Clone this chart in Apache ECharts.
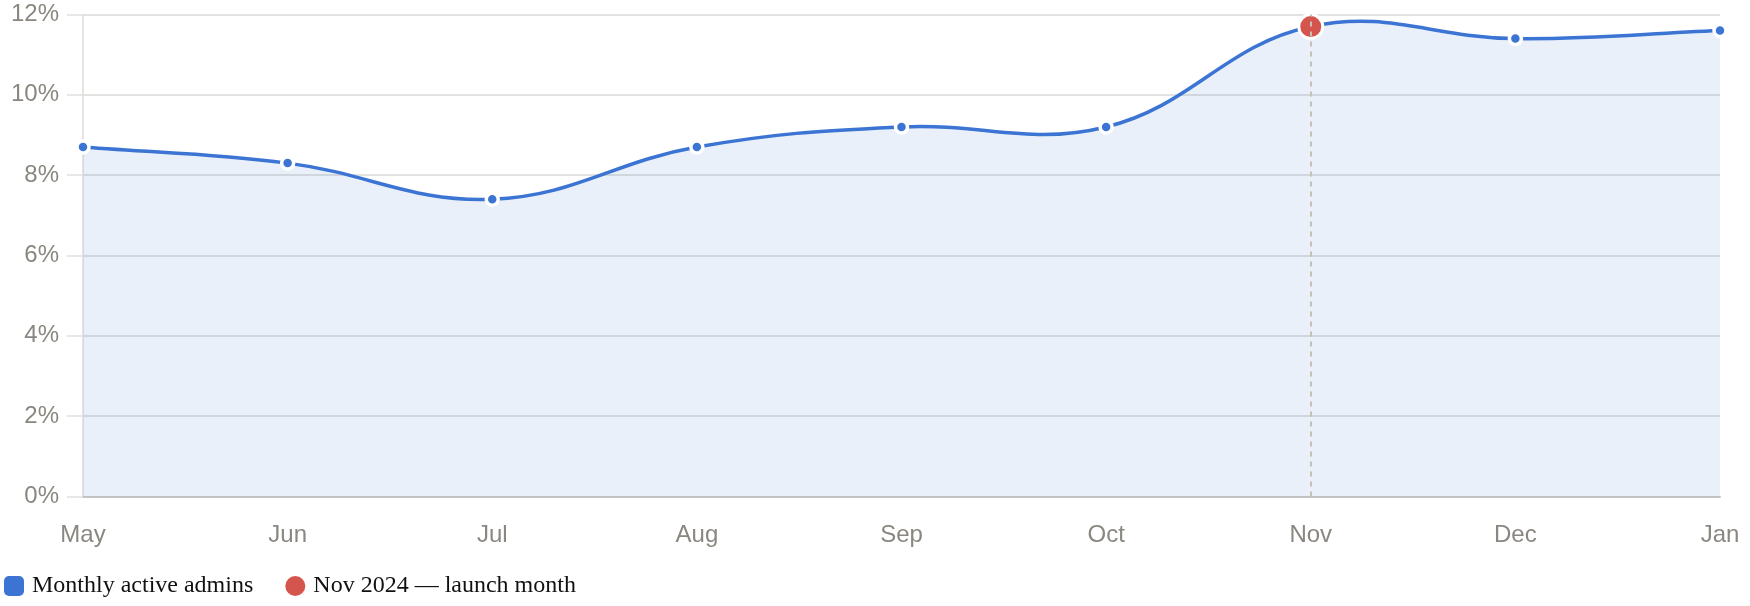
<!DOCTYPE html>
<html><head><meta charset="utf-8">
<script src="https://cdn.jsdelivr.net/npm/echarts@6/dist/echarts.min.js"></script>
<style>html,body{margin:0;padding:0;background:#fff}#c{width:1750px;height:606px}</style>
</head><body><div id="c"></div>
<script>
const categories = ['May','Jun','Jul','Aug','Sep','Oct','Nov','Dec','Jan'];
const adminValues = [8.7, 8.3, 7.4, 8.7, 9.2, 9.2, 11.7, 11.4, 11.6];
const launchCategory = 'Nov';
const launchValue = 11.7;
const seriesNames = ['Monthly active admins', 'Nov 2024 — launch month'];

const BLUE = '#3b74d3';
const RED = '#d4554d';
const TENSION = 0.4;

function splinePaths(pts, base) {
  const n = pts.length;
  const cps = pts.map((cur, i) => {
    const prev = pts[Math.max(i - 1, 0)];
    const next = pts[Math.min(i + 1, n - 1)];
    const d01 = Math.hypot(cur[0] - prev[0], cur[1] - prev[1]);
    const d12 = Math.hypot(next[0] - cur[0], next[1] - cur[1]);
    let s01 = d01 / (d01 + d12), s12 = d12 / (d01 + d12);
    if (!isFinite(s01)) s01 = 0;
    if (!isFinite(s12)) s12 = 0;
    const fa = TENSION * s01, fb = TENSION * s12;
    return {
      p: [cur[0] - fa * (next[0] - prev[0]), cur[1] - fa * (next[1] - prev[1])],
      n: [cur[0] + fb * (next[0] - prev[0]), cur[1] + fb * (next[1] - prev[1])]
    };
  });
  let d = 'M' + pts[0][0] + ' ' + pts[0][1];
  for (let i = 0; i < n - 1; i++) {
    const c1 = cps[i].n, c2 = cps[i + 1].p, e = pts[i + 1];
    d += ' C' + c1[0] + ' ' + c1[1] + ' ' + c2[0] + ' ' + c2[1] + ' ' + e[0] + ' ' + e[1];
  }
  const area = d + ' L' + pts[n - 1][0] + ' ' + base + ' L' + pts[0][0] + ' ' + base + ' Z';
  return {line: d, area: area};
}

const chart = echarts.init(document.getElementById('c'));
chart.setOption({
  animation: false,
  grid: {left: 83, right: 30, top: 14.5, bottom: 109.5},
  legend: {
    left: 4, top: 574, padding: 0, itemWidth: 20, itemHeight: 20, itemGap: 32,
    textStyle: {fontFamily: 'Liberation Serif', fontSize: 24, color: '#111', padding: [0, 0, 0, 3]},
    data: [
      {name: seriesNames[0], icon: 'roundRect', itemStyle: {color: BLUE, borderWidth: 0}},
      {name: seriesNames[1], icon: 'circle', itemStyle: {color: RED, borderWidth: 0}}
    ]
  },
  xAxis: {
    type: 'category', data: categories, boundaryGap: false,
    axisLine: {lineStyle: {color: '#c6c6c6', width: 2}},
    axisTick: {show: false},
    axisLabel: {color: '#8a8780', fontFamily: 'Liberation Sans', fontSize: 24, margin: 27}
  },
  yAxis: {
    type: 'value', min: 0, max: 12, interval: 2,
    axisLine: {show: true, lineStyle: {color: '#dedcd8', width: 1.5}},
    axisTick: {show: true, length: 16, lineStyle: {color: '#e2e0dc', width: 1.5}},
    splitLine: {lineStyle: {color: '#d8d8d6', width: 1.5}},
    axisLabel: {color: '#8a8780', fontFamily: 'Liberation Sans', fontSize: 24, margin: 24, formatter: '{value}%'}
  },
  series: [
    {
      name: 'curve', type: 'custom', silent: true, z: 1,
      data: [[0, 0]],
      renderItem: function (params, api) {
        const pts = adminValues.map((v, i) => api.coord([i, v]));
        const base = api.coord([0, 0])[1];
        const paths = splinePaths(pts, base);
        return {
          type: 'group',
          children: [
            {type: 'path', shape: {pathData: paths.area}, style: {fill: 'rgba(59,116,211,0.11)', stroke: null}},
            {type: 'path', shape: {pathData: paths.line}, style: {fill: null, stroke: BLUE, lineWidth: 3.5}}
          ]
        };
      }
    },
    {
      name: seriesNames[0], type: 'line', data: adminValues,
      symbol: 'circle', symbolSize: 12,
      itemStyle: {color: BLUE, borderColor: '#fff', borderWidth: 3.5},
      lineStyle: {width: 0, opacity: 0},
      z: 3
    },
    {
      name: seriesNames[1], type: 'line', data: [[launchCategory, launchValue]],
      symbol: 'circle', symbolSize: 24, showSymbol: true,
      itemStyle: {color: RED, borderColor: '#fff', borderWidth: 3},
      lineStyle: {opacity: 0}, z: 4
    },
    {
      name: 'launch-line', type: 'line', data: [], z: 6,
      markLine: {
        silent: true, symbol: 'none', label: {show: false},
        lineStyle: {color: '#c6c0b6', type: [5, 5], width: 2},
        data: [{xAxis: launchCategory}]
      }
    }
  ]
});
</script></body></html>
